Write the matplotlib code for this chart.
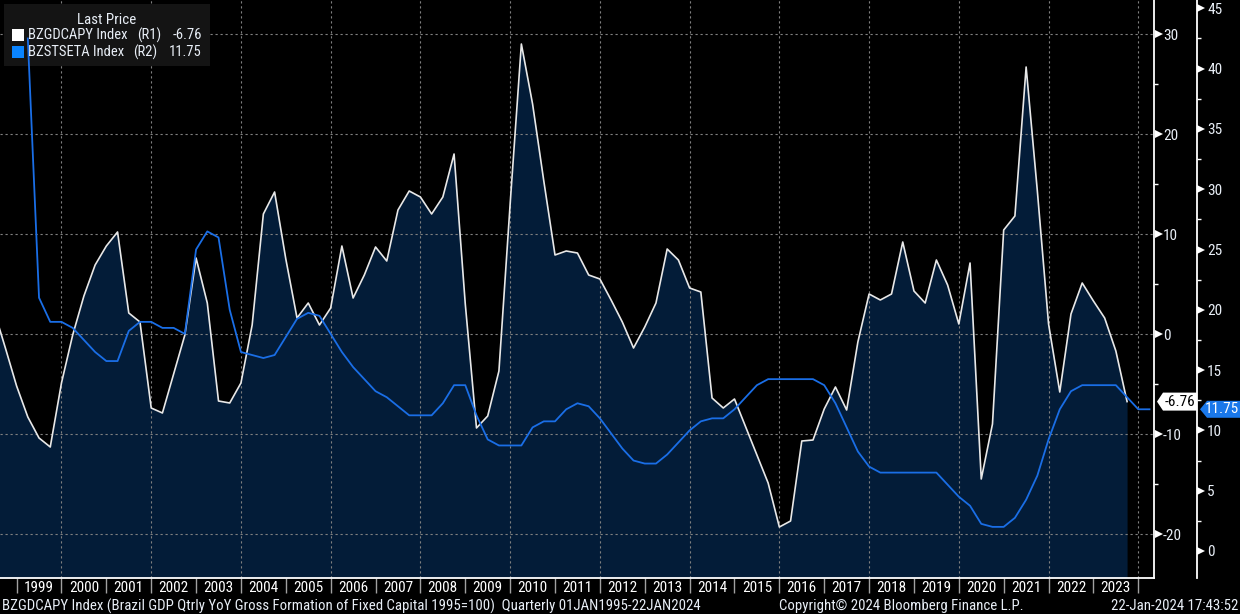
import os
import numpy as np
import pandas as pd
import matplotlib
matplotlib.use('Agg')
import matplotlib.pyplot as plt
from matplotlib import font_manager as fm
from matplotlib.patches import Polygon, Rectangle
import matplotlib.transforms as mtransforms
from matplotlib.ticker import FixedLocator, NullFormatter, FixedFormatter

plt.rcParams['axes.unicode_minus'] = False

# ---------------- data ----------------
gdp_first_quarter = '1998Q2'
gdp_values = [
    2.3, -1.4, -5.2, -8.3, -10.4, -11.3, -4.9,          # 1998Q2 - 1999Q4
    -0.1, 3.8, 6.9, 8.8,                                # 2000
    10.2, 2.1, 1.2, -7.4,                               # 2001
    -7.9, -4.0, -0.1, 7.6,                              # 2002
    3.1, -6.7, -6.9, -4.9,                              # 2003
    0.9, 12.0, 14.2, 7.5,                               # 2004
    1.6, 3.1, 0.9, 2.6,                                 # 2005
    8.8, 3.6, 5.9, 8.7,                                 # 2006
    7.3, 12.4, 14.3, 13.7,                              # 2007
    12.0, 13.7, 18.0, 3.0,                              # 2008
    -9.4, -8.2, -3.7, 13.0,                             # 2009
    29.0, 23.0, 15.3, 7.9,                              # 2010
    8.3, 8.1, 5.9, 5.5,                                 # 2011
    3.4, 1.2, -1.4, 0.7,                                # 2012
    3.1, 8.5, 7.4, 4.6,                                 # 2013
    4.2, -6.4, -7.4, -6.5,                              # 2014
    -9.3, -12.1, -14.9, -19.3,                          # 2015
    -18.7, -10.7, -10.6, -7.5,                          # 2016
    -5.3, -7.6, -0.8, 4.0,                              # 2017
    3.4, 4.0, 9.2, 4.3,                                 # 2018
    3.1, 7.4, 4.9, 1.0,                                 # 2019
    7.1, -14.5, -9.0, 10.4,                             # 2020
    11.8, 26.7, 14.3, 1.0,                              # 2021
    -5.8, 2.0, 5.1, 3.3,                                # 2022
    1.6, -1.7, -6.76,                                   # 2023Q1-Q3
]
selic_first_quarter = '1999Q1'
selic_values = [
    42.5, 21.0, 19.0, 19.0,                             # 1999
    18.5, 17.5, 16.5, 15.75,                            # 2000
    15.75, 18.25, 19.0, 19.0,                           # 2001
    18.5, 18.5, 18.0, 25.0,                             # 2002
    26.5, 26.0, 20.0, 16.5,                             # 2003
    16.25, 16.0, 16.25, 17.75,                          # 2004
    19.25, 19.75, 19.5, 18.0,                           # 2005
    16.5, 15.25, 14.25, 13.25,                          # 2006
    12.75, 12.0, 11.25, 11.25,                          # 2007
    11.25, 12.25, 13.75, 13.75,                         # 2008
    11.25, 9.25, 8.75, 8.75,                            # 2009
    8.75, 10.25, 10.75, 10.75,                          # 2010
    11.75, 12.25, 12.0, 11.0,                           # 2011
    9.75, 8.5, 7.5, 7.25,                               # 2012
    7.25, 8.0, 9.0, 10.0,                               # 2013
    10.75, 11.0, 11.0, 11.75,                           # 2014
    12.75, 13.75, 14.25, 14.25,                         # 2015
    14.25, 14.25, 14.25, 13.75,                         # 2016
    12.25, 10.25, 8.25, 7.0,                            # 2017
    6.5, 6.5, 6.5, 6.5,                                 # 2018
    6.5, 6.5, 5.5, 4.5,                                 # 2019
    3.75, 2.25, 2.0, 2.0,                               # 2020
    2.75, 4.25, 6.25, 9.25,                             # 2021
    11.75, 13.25, 13.75, 13.75,                         # 2022
    13.75, 13.75, 12.75, 11.75,                         # 2023
    11.75,                                              # 2024Q1
]
gdp_last = -6.76
selic_last = 11.75
gdp_name = 'BZGDCAPY Index'
selic_name = 'BZSTSETA Index'
year_labels = list(range(1999, 2024))
r1_major = [-20, -10, 0, 10, 20, 30]
r1_minor = [-15, -5, 5, 15, 25]
r2_major = [0, 5, 10, 15, 20, 25, 30, 35, 40, 45]
r2_minor = [2.5, 7.5, 12.5, 17.5, 22.5, 27.5, 32.5, 37.5, 42.5]
footer_left = ('BZGDCAPY Index (Brazil GDP Qtrly YoY Gross Formation of Fixed Capital 1995=100)  '
               'Quarterly 01JAN1995-22JAN2024')
footer_mid = 'Copyright\u00a9 2024 Bloomberg Finance L.P.'
footer_right = '22-Jan-2024 17:43:52'


def quarter_pos(first, n):
    p = pd.period_range(first, periods=n, freq='Q')
    return np.asarray(p.year, dtype=float) + np.asarray(p.quarter, dtype=float) / 4.0


tg = quarter_pos(gdp_first_quarter, len(gdp_values))
ts = quarter_pos(selic_first_quarter, len(selic_values))

# ---------------- font: prefer a narrow face if one is installed ----------------
narrow_file = None
for pref in ['LiberationSansNarrow-Regular', 'RobotoCondensed-Regular', 'DejaVuSansCondensed.ttf',
             'OpenSans_Condensed-Regular', 'OpenSansCondensed']:
    for f in fm.fontManager.ttflist:
        if pref in os.path.basename(f.fname):
            narrow_file = f.fname
            break
    if narrow_file:
        break
if narrow_file:
    fm.fontManager.addfont(narrow_file)
    narrow_name = fm.FontProperties(fname=narrow_file).get_name()
    plt.rcParams['font.family'] = [narrow_name, 'DejaVu Sans']
    FS, LFS, FFS = 11.0, 10.5, 10.7
else:
    plt.rcParams['font.family'] = ['Liberation Sans', 'DejaVu Sans']
    FS, LFS, FFS = 10.5, 8.6, 9.25

# ---------------- styling ----------------
W, H = 1240, 614
FILL = '#031c38'
WHITE_LINE = '#e8e8e8'
BLUE_LINE = '#1a6ee6'
GRID = '#808080'
TXT = '#e8eef6'

fig = plt.figure(figsize=(W / 100, H / 100), dpi=100, facecolor='black')
ax = fig.add_axes([0, 36 / H, 1154 / W, 578 / H])
ax.set_facecolor('black')
ax2 = ax.twinx()

ax.set_xlim(1998.63, 2024.35)
ax.set_ylim(-24.4, 33.4)
ax2.set_ylim(-2.24, 45.69)

# grid
ax.yaxis.set_major_locator(FixedLocator(r1_major))
ax.yaxis.set_minor_locator(FixedLocator(r1_minor))
ax.yaxis.grid(True, which='major', color=GRID, linestyle=(0, (2, 2.5)), linewidth=0.8, zorder=1.5)
for yr in range(2000, 2025, 2):
    ax.axvline(yr, color=GRID, linestyle=(0, (2, 2.5)), linewidth=0.8, zorder=1.5)

# series
ax.fill_between(tg, gdp_values, ax.get_ylim()[0], color=FILL, linewidth=0, zorder=1)
ax.plot(tg, gdp_values, color=WHITE_LINE, linewidth=1.2, zorder=3)
ax2.plot(ts, selic_values, color=BLUE_LINE, linewidth=1.3, zorder=3)

# spines
for s in ['left', 'top']:
    ax.spines[s].set_visible(False)
ax.spines['right'].set_color('white')
ax.spines['right'].set_linewidth(1.3)
ax.spines['bottom'].set_color('white')
ax.spines['bottom'].set_linewidth(1.3)
for s in ['left', 'top', 'bottom']:
    ax2.spines[s].set_visible(False)
ax2.spines['right'].set_position(('outward', 43 * 0.72))
ax2.spines['right'].set_color('white')
ax2.spines['right'].set_linewidth(1.3)

# y ticks R1
ax.yaxis.tick_right()
ax.tick_params(axis='y', which='major', length=0, pad=9 * 0.72, labelsize=FS,
               labelcolor=TXT, left=False, right=True, labelleft=False, labelright=True)
ax.tick_params(axis='y', which='minor', length=4 * 0.72, width=1, color='white',
               direction='out', left=False, right=True)
ax.yaxis.set_major_formatter(FixedFormatter([str(v) for v in r1_major]))

# y ticks R2
ax2.yaxis.set_major_locator(FixedLocator(r2_major))
ax2.yaxis.set_minor_locator(FixedLocator(r2_minor))
ax2.yaxis.set_major_formatter(FixedFormatter([str(v) for v in r2_major]))
ax2.tick_params(axis='y', which='major', length=0, pad=10 * 0.72, labelsize=FS, labelcolor=TXT)
ax2.tick_params(axis='y', which='minor', length=4 * 0.72, width=1, color='white', direction='out')

# triangular tick markers
tr1 = mtransforms.blended_transform_factory(ax.transAxes, ax.transData)
ax.plot([1.0039] * len(r1_major), r1_major, ls='none', marker='>', ms=5.5, mew=0,
        color='white', transform=tr1, clip_on=False, zorder=6)
tr2 = mtransforms.blended_transform_factory(ax2.transAxes, ax2.transData)
ax2.plot([1.0410] * len(r2_major), r2_major, ls='none', marker='>', ms=5.5, mew=0,
         color='white', transform=tr2, clip_on=False, zorder=6)

# x ticks
ax.xaxis.set_major_locator(FixedLocator(list(range(1999, 2025))))
ax.xaxis.set_major_formatter(NullFormatter())
ax.xaxis.set_minor_locator(FixedLocator([y + 0.5 for y in year_labels]))
ax.xaxis.set_minor_formatter(FixedFormatter([str(y) for y in year_labels]))
ax.tick_params(axis='x', which='major', length=15 * 0.72, width=1, color='#a0a0a0', direction='out')
ax.tick_params(axis='x', which='minor', length=0, pad=2, labelsize=FS, labelcolor='white')

# legend box (drawn under the blue line, over grid)
ax2.add_patch(Rectangle((4 / W, 1 - 66 / H), 206 / W, 62 / H, transform=fig.transFigure,
                        facecolor='#141414', edgecolor='none', zorder=2))
ax2.text(107 / W, 1 - 20.5 / H, 'Last Price', transform=fig.transFigure, ha='center', va='center',
         color=TXT, fontsize=LFS + 0.3, zorder=4)
rows = [(gdp_name, '(R1)', f'{gdp_last:.2f}', 'white', 35.0, 137),
        (selic_name, '(R2)', f'{selic_last:.2f}', '#0a84ff', 52.0, 133)]
for name, r, val, col, yc, rx in rows:
    ax2.add_patch(Rectangle((12 / W, 1 - (yc + 5.5) / H), 12 / W, 11 / H, transform=fig.transFigure,
                            facecolor=col, edgecolor='none', zorder=4))
    ax2.text(28 / W, 1 - yc / H, name, transform=fig.transFigure, ha='left', va='center',
             color=TXT, fontsize=LFS, zorder=4)
    ax2.text(rx / W, 1 - yc / H, r, transform=fig.transFigure, ha='left', va='center',
             color=TXT, fontsize=LFS, zorder=4)
    ax2.text(202 / W, 1 - yc / H, val, transform=fig.transFigure, ha='right', va='center',
             color=TXT, fontsize=LFS, zorder=4)

# last value tags
y1 = ax.transData.transform((2000, gdp_last))[1]
pts1 = [(1157, y1), (1163, y1 + 9), (1197, y1 + 9), (1197, y1 - 9), (1163, y1 - 9)]
fig.add_artist(Polygon([(x / W, y / H) for x, y in pts1], closed=True, transform=fig.transFigure,
                       facecolor='white', edgecolor='none', zorder=10))
fig.text(1180 / W, y1 / H, f'{gdp_last:.2f}', ha='center', va='center', color='black',
         fontsize=FS, zorder=11)
y2 = ax2.transData.transform((2000, selic_last))[1]
pts2 = [(1200, y2), (1207, y2 + 8.5), (1240, y2 + 8.5), (1240, y2 - 8.5), (1207, y2 - 8.5)]
fig.add_artist(Polygon([(x / W, y / H) for x, y in pts2], closed=True, transform=fig.transFigure,
                       facecolor='#1a78ea', edgecolor='none', zorder=10))
fig.text(1222 / W, y2 / H, f'{selic_last:.2f}', ha='center', va='center', color='white',
         fontsize=FS, zorder=11)

# footer
fig.text(2 / W, 1 - 606 / H, footer_left, ha='left', va='center', color=TXT, fontsize=FFS)
fig.text(901 / W, 1 - 606 / H, footer_mid, ha='center', va='center', color=TXT, fontsize=FFS)
fig.text(1238 / W, 1 - 606 / H, footer_right, ha='right', va='center', color=TXT, fontsize=FFS)

fig.savefig('out.png', dpi=100, facecolor='black')
